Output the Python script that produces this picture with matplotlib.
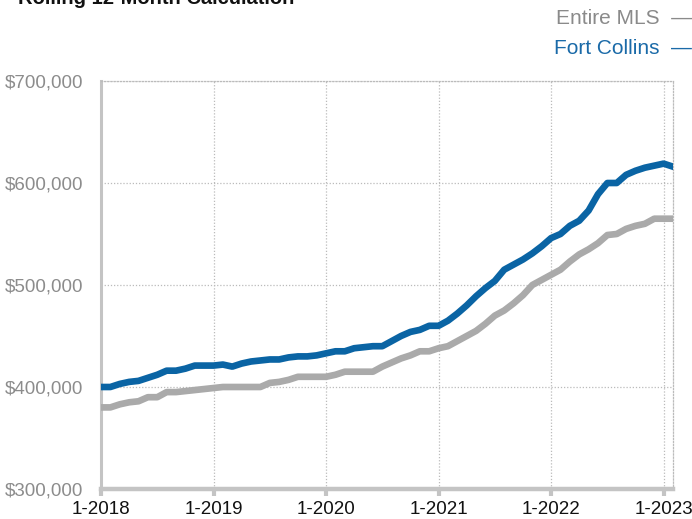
import matplotlib.pyplot as plt
from matplotlib.ticker import FuncFormatter

plt.rcParams['font.family'] = ['Liberation Sans', 'DejaVu Sans']

# monthly median price, rolling 12 months, Jan 2018 .. Feb 2023 (thousands of $)
fort_collins = [400, 400, 403, 405, 406, 409, 412, 416, 416, 418, 421, 421,
                421, 422, 420, 423, 425, 426, 427, 427, 429, 430, 430, 431,
                433, 435, 435, 438, 439, 440, 440, 445, 450, 454, 456, 460,
                460, 465, 472, 480, 489, 497, 504, 515, 520, 525, 531, 538,
                546, 550, 558, 563, 573, 589, 600, 600, 608, 612, 615, 617,
                619, 616]
entire_mls = [380, 380, 383, 385, 386, 390, 390, 395, 395, 396, 397, 398,
              399, 400, 400, 400, 400, 400, 404, 405, 407, 410, 410, 410,
              410, 412, 415, 415, 415, 415, 420, 424, 428, 431, 435, 435,
              438, 440, 445, 450, 455, 462, 470, 475, 482, 490, 500, 505,
              510, 515, 523, 530, 535, 541, 549, 550, 555, 558, 560, 565,
              565, 565]
year_labels = ["1-2018", "1-2019", "1-2020", "1-2021", "1-2022", "1-2023"]
price_ticks = [300000, 400000, 500000, 600000, 700000]

blue = "#0a64a4"
grey = "#aaaaaa"

fig = plt.figure(figsize=(6.92, 5.19), dpi=100)
ax = fig.add_axes([101 / 692, 30 / 519, 572 / 692, 408 / 519])

months = list(range(len(fort_collins)))
ax.plot(months, [v * 1000 for v in entire_mls], color=grey, lw=4.8,
        solid_joinstyle="round", zorder=3)
ax.plot(months, [v * 1000 for v in fort_collins], color=blue, lw=4.8,
        solid_joinstyle="round", zorder=4)

ax.set_xlim(0, len(months) - 1)
ax.set_ylim(300000, 700000)
ax.set_xticks(range(0, 61, 12))
ax.set_xticklabels(year_labels)
ax.set_yticks(price_ticks)
ax.yaxis.set_major_formatter(FuncFormatter(lambda v, p: "${:,.0f}".format(v)))

ax.grid(True, color="#bbbbbb", linestyle=(0, (1, 1.5)), linewidth=0.9)
ax.set_axisbelow(True)

for side in ("top", "right"):
    ax.spines[side].set_linestyle((0, (1, 1.5)))
    ax.spines[side].set_color("#bbbbbb")
    ax.spines[side].set_linewidth(0.9)
ax.spines["left"].set_color("#c4c4c4")
ax.spines["left"].set_linewidth(2.2)
ax.spines["bottom"].set_color("#c4c4c4")
ax.spines["bottom"].set_linewidth(3.2)

ax.tick_params(axis="y", length=0, pad=13, labelsize=13.5, labelcolor="#8c8c8c")
ax.tick_params(axis="x", direction="out", length=5, width=3, color="#c4c4c4",
               pad=4, labelsize=13.5, labelcolor="#111111")

fig.text(18 / 692, 1 - 4 / 519, "Rolling 12-Month Calculation",
         fontsize=14.5, fontweight="bold", color="#111111", va="baseline")
fig.text(1.0, 1 - 18 / 519, "Entire MLS  \u2014", fontsize=15, color="#8a8a8a",
         ha="right", va="center")
fig.text(1.0, 1 - 49 / 519, "Fort Collins  \u2014", fontsize=15, color="#1a6aa8",
         ha="right", va="center")

fig.savefig("out.png", dpi=100)
